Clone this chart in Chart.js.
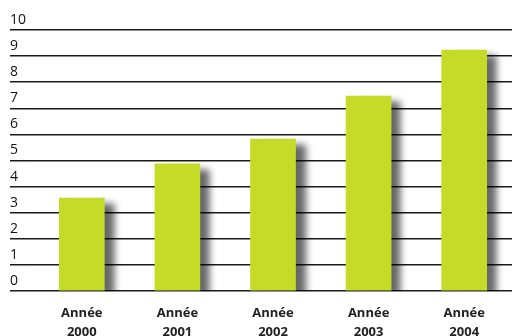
<!DOCTYPE html>
<html>
<head>
<meta charset="utf-8">
<script src="https://cdn.jsdelivr.net/npm/chart.js@4"></script>
<style>
  html, body { margin: 0; padding: 0; background: #fff; }
  #wrap { width: 512px; height: 336px; }
</style>
</head>
<body>
<div id="wrap"><canvas id="barChart" width="512" height="336"></canvas></div>
<script>
const years = [['Année', '2000'], ['Année', '2001'], ['Année', '2002'], ['Année', '2003'], ['Année', '2004']];
const values = [3.56, 4.87, 5.82, 7.47, 9.23];
const yTicks = [0, 1, 2, 3, 4, 5, 6, 7, 8, 9, 10];

// ombre portée sous les barres
const barShadow = {
    id: 'barShadow',
    beforeDatasetsDraw(chart) {
        const c = chart.ctx;
        c.save();
        c.shadowColor = 'rgba(0,0,0,0.6)';
        c.shadowOffsetX = 10;
        c.shadowOffsetY = 5;
        c.shadowBlur = 7;
    },
    afterDatasetsDraw(chart) {
        chart.ctx.restore();
    }
};

const ctx = document.getElementById('barChart').getContext('2d');

new Chart(ctx, {
    type: 'bar',
    data: {
        labels: years,
        datasets: [{
            data: values,
            backgroundColor: '#c4dc28',
            borderWidth: 0,
            barThickness: 45
        }]
    },
    options: {
        responsive: false,
        animation: false,
        layout: {
            padding: { top: 30, left: 10, right: 0, bottom: 0 }
        },
        scales: {
            y: {
                min: 0,
                max: 10,
                afterFit(scale) { scale.width = 24; },
                afterBuildTicks(scale) {
                    scale.ticks = yTicks.map(v => ({ value: v }));
                },
                border: { display: false },
                grid: {
                    color: '#1a1a1a',
                    lineWidth: 1.5,
                    drawTicks: true,
                    tickLength: 24,
                    tickColor: '#1a1a1a'
                },
                ticks: {
                    crossAlign: 'far',
                    labelOffset: -10,
                    padding: 0,
                    color: '#111',
                    font: { family: 'Open Sans', size: 14 }
                }
            },
            x: {
                afterFit(scale) { scale.height = 45; },
                border: { display: false },
                grid: { display: false, drawTicks: false },
                ticks: {
                    padding: 13,
                    color: '#222',
                    font: { family: 'Open Sans', size: 13, weight: 'bold', lineHeight: 1.45 }
                }
            }
        },
        plugins: {
            legend: { display: false },
            tooltip: { enabled: false }
        }
    },
    plugins: [barShadow]
});
</script>
</body>
</html>
